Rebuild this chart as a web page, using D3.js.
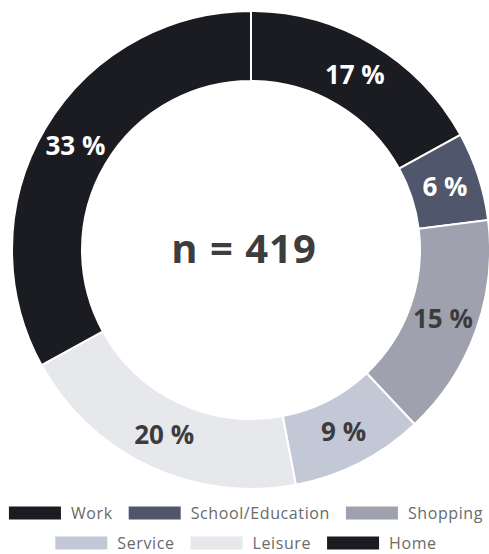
<!DOCTYPE html>
<html>
<head>
<meta charset="utf-8">
<script src="https://cdn.jsdelivr.net/npm/d3@7"></script>
<style>
  body { margin: 0; background: #fff; }
  svg { display: block; }
</style>
</head>
<body>
<div id="chart"></div>
<script>
var width = 489, height = 554;

// trip purposes, clockwise from 12 o'clock
var categories = ["Work", "School/Education", "Shopping", "Service", "Leisure", "Home"];
var shares = [17, 6, 15, 9, 20, 33];
var sampleSize = 419;
var legendRows = [[0, 1, 2], [3, 4, 5]];

var palette = ["#1b1c21", "#50566b", "#9fa2ae", "#c3c8d6", "#e7e8ec", "#1b1c21"];
var darkSlice = [true, true, false, false, false, true];

var cx = 251, cy = 250
  , outerR = 239
  , innerR = 169;

var svg = d3.select("#chart")
  .append("svg")
    .attr("width", width)
    .attr("height", height);

var color = d3.scaleOrdinal()
  .domain(categories)
  .range(palette);

var pie = d3.pie()
  .sort(null)
  .value(d => d.value);

var arc = d3.arc()
  .innerRadius(innerR)
  .outerRadius(outerR);

var slices = pie(categories.map((c, i) => ({name: c, value: shares[i], idx: i})));

var g = svg.append("g")
  .attr("transform", "translate(" + cx + "," + cy + ")");

g.selectAll(".slice")
  .data(slices)
  .enter()
  .append("path")
  .attr("class", "slice")
  .attr("d", arc)
  .attr("fill", d => color(d.data.name))
  .attr("stroke", "#fff")
  .attr("stroke-width", 2);

g.selectAll(".pct")
  .data(slices)
  .enter()
  .append("text")
  .attr("class", "pct")
  .attr("x", d => arc.centroid(d)[0])
  .attr("y", d => arc.centroid(d)[1])
  .attr("dy", "0.35em")
  .attr("text-anchor", "middle")
  .attr("font-family", "'Open Sans', sans-serif")
  .attr("font-weight", 700)
  .attr("font-size", 26)
  .attr("fill", d => darkSlice[d.data.idx] ? "#fff" : "#3c3c3c")
  .text(d => d.data.value + " %");

// sample size in the hole
g.append("text")
  .attr("x", -7)
  .attr("y", 13)
  .attr("text-anchor", "middle")
  .attr("font-family", "'Open Sans', sans-serif")
  .attr("font-weight", 700)
  .attr("font-size", 40)
  .attr("letter-spacing", 1)
  .attr("fill", "#3d3d3d")
  .text("n = " + sampleSize);

// legend, two centred rows
var swW = 52, swH = 13, swGap = 10, itemGap = 16;
var rowY = [513, 543];
var legendCx = 246;

legendRows.forEach((row, r) => {
  var lg = svg.append("g");
  var x = 0;
  row.forEach(i => {
    var item = lg.append("g").attr("transform", "translate(" + x + ",0)");
    item.append("rect")
      .attr("x", 0)
      .attr("y", rowY[r] - swH / 2)
      .attr("width", swW)
      .attr("height", swH)
      .attr("fill", color(categories[i]));
    var t = item.append("text")
      .attr("x", swW + swGap)
      .attr("y", rowY[r])
      .attr("dy", "0.35em")
      .attr("font-family", "'Open Sans', sans-serif")
      .attr("font-size", 16)
      .attr("letter-spacing", 0.6)
      .attr("fill", "#6a6a6a")
      .text(categories[i]);
    x += swW + swGap + t.node().getComputedTextLength() + itemGap;
  });
  var total = x - itemGap;
  lg.attr("transform", "translate(" + (legendCx - total / 2) + ",0)");
});
</script>
</body>
</html>
